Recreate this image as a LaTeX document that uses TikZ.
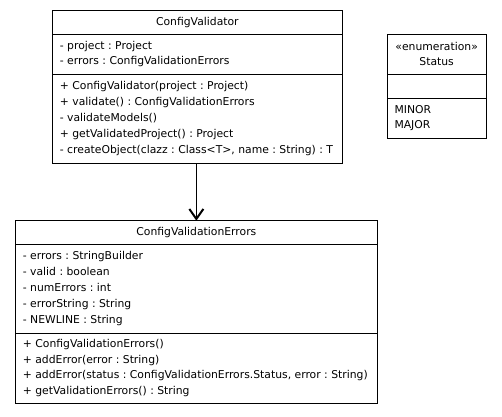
\documentclass[tikz,border=0pt]{standalone}
\usepackage{fontspec}
\setmainfont{DejaVu Sans}
\usetikzlibrary{arrows.meta}
\frenchspacing
\begin{document}
\begin{tikzpicture}[x=1pt,y=-1pt,
  umlfont/.style={font=\frenchspacing\fontsize{10.8}{15.8}\selectfont},
  part/.style={draw=black, line width=0.9pt, anchor=north west, inner sep=0pt, outer sep=0pt},
  cvpart/.style={part, minimum width=289.3pt},
  cepart/.style={part, minimum width=361.3pt},
  enpart/.style={part, minimum width=98.7pt},
  lines/.style={umlfont, align=left, anchor=west, inner sep=0pt},
  title/.style={umlfont, align=center, inner sep=0pt},
  dep/.style={draw=black, line width=1pt, -{Straight Barb[length=10pt,width=14pt,line width=2pt]}}
]
\useasboundingbox[fill=white] (0,0) rectangle (502,416);

% ConfigValidator
\node[cvpart, minimum height=23.3pt] (cvT) at (52.7,10.7) {};
\node[cvpart, minimum height=40pt] (cvA) at (cvT.south west) {};
\node[cvpart, minimum height=89pt] (cvM) at (cvA.south west) {};
\node[title] (cvTt) at (cvT.center) {ConfigValidator};
\node[lines] (cvAt) at ([xshift=7pt]cvA.west) {- project : Project\\- errors : ConfigValidationErrors};
\node[lines] (cvMt) at ([xshift=7pt]cvM.west) {+ ConfigValidator(project : Project)\\+ validate() : ConfigValidationErrors\\- validateModels()\\+ getValidatedProject() : Project\\- createObject(clazz : Class<T>, name : String) : T};

% Status enumeration
\node[enpart, minimum height=40pt] (enT) at (387.3,34) {};
\node[enpart, minimum height=24pt] (enA) at (enT.south west) {};
\node[enpart, minimum height=40pt] (enL) at (enA.south west) {};
\node[title] (enTt) at (enT.center) {«enumeration»\\Status};
\node[lines] (enLt) at ([xshift=7pt]enL.west) {MINOR\\MAJOR};

% ConfigValidationErrors
\node[cepart, minimum height=23.3pt] (ceT) at (15.7,220.7) {};
\node[cepart, minimum height=89pt] (ceA) at (ceT.south west) {};
\node[cepart, minimum height=70pt] (ceM) at (ceA.south west) {};
\node[title] (ceTt) at (ceT.center) {ConfigValidationErrors};
\node[lines] (ceAt) at ([xshift=7pt]ceA.west) {- errors : StringBuilder\\- valid : boolean\\- numErrors : int\\- errorString : String\\- NEWLINE : String};
\node[lines] (ceMt) at ([xshift=7pt]ceM.west) {+ ConfigValidationErrors()\\+ addError(error : String)\\+ addError(status : ConfigValidationErrors.Status, error : String)\\+ getValidationErrors() : String};

\draw[dep] (cvM.south -| ceT.north) -- (ceT.north);
\end{tikzpicture}
\end{document}
